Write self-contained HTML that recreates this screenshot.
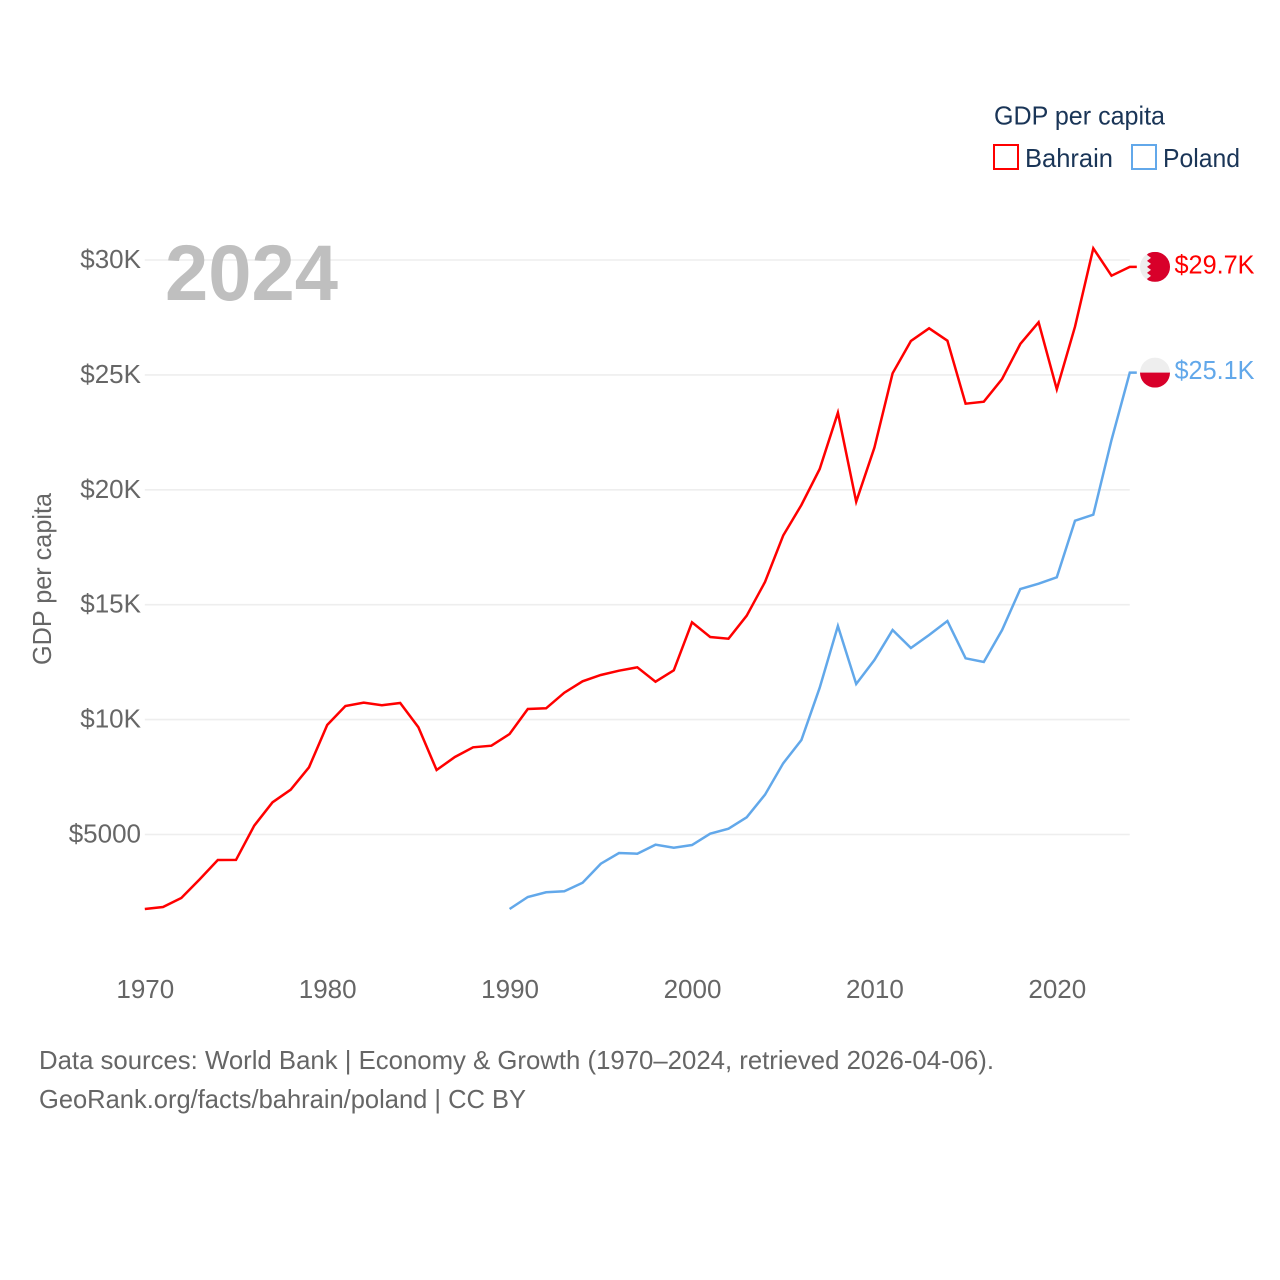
<!DOCTYPE html>
<html lang="en">
<head>
<meta charset="utf-8">
<title>GDP per capita: Bahrain and Poland</title>
<style>
  html, body { margin: 0; padding: 0; background: #fff; }
  svg { display: block; font-family: "Liberation Sans", sans-serif; }
  .tick { font-size: 26px; fill: #666; }
  .foot { font-size: 26px; fill: #666; }
  .legend { font-size: 26px; fill: #1a3557; }
</style>
</head>
<body>
<svg id="chart" width="1280" height="1280" viewBox="0 0 1280 1280" xmlns="http://www.w3.org/2000/svg">
  <rect width="1280" height="1280" fill="#fff"/>
  <defs>
    <clipPath id="flag-clip"><circle cx="0" cy="0" r="15"/></clipPath>
  </defs>

  <g id="grid"></g>
  <g id="y-ticks"></g>
  <g id="x-ticks"></g>

  <text class="tick" transform="translate(51,579) rotate(-90)" text-anchor="middle" textLength="172" lengthAdjust="spacingAndGlyphs">GDP per capita</text>
  <text x="165" y="300" font-size="79" font-weight="700" fill="#bfbfbf" textLength="173" lengthAdjust="spacingAndGlyphs">2024</text>

  <g id="series"></g>

  <g id="flag-bahrain" clip-path="url(#flag-clip)">
    <rect x="-15" y="-15" width="30" height="30" fill="#eeeeee"/>
    <polygon fill="#d8002a" points="15,-15 -6,-15 -8,-12 -4,-9 -8,-6 -4,-3 -8,0 -4,3 -8,6 -4,9 -8,12 -6,15 15,15"/>
  </g>
  <g id="flag-poland" clip-path="url(#flag-clip)">
    <rect x="-15" y="-15" width="30" height="15" fill="#eeeeee"/>
    <rect x="-15" y="0" width="30" height="15" fill="#d8002a"/>
  </g>

  <g id="end-labels"></g>

  <g>
    <text class="legend" x="994" y="124.5" textLength="171" lengthAdjust="spacingAndGlyphs">GDP per capita</text>
    <rect x="994" y="145" width="24" height="24" fill="none" stroke="#ff0000" stroke-width="2"/>
    <text class="legend" x="1025" y="167" textLength="88" lengthAdjust="spacingAndGlyphs">Bahrain</text>
    <rect x="1132" y="145" width="24" height="24" fill="none" stroke="#62a8ea" stroke-width="2"/>
    <text class="legend" x="1163" y="167" textLength="77" lengthAdjust="spacingAndGlyphs">Poland</text>
  </g>

  <text class="foot" x="39" y="1069" textLength="955" lengthAdjust="spacingAndGlyphs">Data sources: World Bank | Economy &amp; Growth (1970–2024, retrieved 2026-04-06).</text>
  <text class="foot" x="39" y="1108" textLength="487" lengthAdjust="spacingAndGlyphs">GeoRank.org/facts/bahrain/poland | CC BY</text>
</svg>

<script>
var yTickValues = [5000, 10000, 15000, 20000, 25000, 30000];
var yTickLabels = ["$5000", "$10K", "$15K", "$20K", "$25K", "$30K"];
var xTickYears = [1970, 1980, 1990, 2000, 2010, 2020];
var xTickLabels = ["1970", "1980", "1990", "2000", "2010", "2020"];

var bahrainStartYear = 1970;
var bahrainValues = [1758, 1845, 2237, 3042, 3890, 3895, 5383, 6401, 6950, 7924,
  9765, 10592, 10735, 10622, 10722, 9665, 7807, 8372, 8795, 8864,
  9373, 10461, 10492, 11171, 11667, 11941, 12128, 12276, 11649, 12145,
  14234, 13594, 13520, 14521, 15988, 18011, 19338, 20905, 23355, 19482,
  21832, 25070, 26475, 27028, 26488, 23747, 23834, 24822, 26344, 27289,
  24374, 27097, 30509, 29317, 29700];

var polandStartYear = 1990;
var polandValues = [1758, 2280, 2485, 2528, 2903, 3729, 4195, 4165, 4556, 4426,
  4543, 5035, 5252, 5748, 6732, 8098, 9112, 11388, 14073, 11549,
  12594, 13899, 13116, 13681, 14291, 12667, 12506, 13899, 15683, 15914,
  16192, 18655, 18916, 22167, 25100];

var svgNS = "http://www.w3.org/2000/svg";

function xScale(year) {
  return 144.8 + (year - 1970) * 18.24;
}
function yScale(value) {
  return 949.4 - value * 0.02298;
}
function make(tag, parent) {
  var el = document.createElementNS(svgNS, tag);
  parent.appendChild(el);
  return el;
}
function formatK(value) {
  return "$" + (value / 1000).toFixed(1) + "K";
}

var gridGroup = document.getElementById("grid");
var yTickGroup = document.getElementById("y-ticks");
yTickValues.forEach(function (value, i) {
  var line = make("line", gridGroup);
  
  
  line.setAttribute("x1", xScale(1970));
  line.setAttribute("x2", xScale(2024));
  line.setAttribute("y1", yScale(value));
  line.setAttribute("y2", yScale(value));
  line.setAttribute("stroke", "#eeeeee");
  line.setAttribute("stroke-width", "1.6");

  var label = make("text", yTickGroup);
  
  
  label.setAttribute("class", "tick");
  label.setAttribute("x", 141);
  label.setAttribute("y", yScale(value) + 8);
  label.setAttribute("text-anchor", "end");
  label.textContent = yTickLabels[i];
});

var xTickGroup = document.getElementById("x-ticks");
xTickYears.forEach(function (year, i) {
  var label = make("text", xTickGroup);
  
  
  label.setAttribute("class", "tick");
  label.setAttribute("x", xScale(year) + 0.5);
  label.setAttribute("y", 998);
  label.setAttribute("text-anchor", "middle");
  label.textContent = xTickLabels[i];
});

function drawSeries(name, values, startYear, colour, flagId) {
  var seriesGroup = document.getElementById("series");
  var points = values.map(function (value, i) {
    return xScale(startYear + i).toFixed(1) + "," + yScale(value).toFixed(1);
  });
  var last = values[values.length - 1];
  var lastYear = startYear + values.length - 1;
  points.push((xScale(lastYear) + 7).toFixed(1) + "," + yScale(last).toFixed(1));

  var line = make("polyline", seriesGroup);
  
  
  line.setAttribute("points", points.join(" "));
  line.setAttribute("fill", "none");
  line.setAttribute("stroke", colour);
  line.setAttribute("stroke-width", "2.5");
  line.setAttribute("stroke-linejoin", "miter");

  var flag = document.getElementById(flagId);
  flag.setAttribute("transform", "translate(1155," + yScale(last) + ")");

  var label = make("text", document.getElementById("end-labels"));
  
  
  label.setAttribute("x", 1174.5);
  label.setAttribute("y", yScale(last) + 6.5);
  label.setAttribute("fill", colour);
  label.setAttribute("font-size", "26");
  label.setAttribute("textLength", "80");
  label.setAttribute("lengthAdjust", "spacingAndGlyphs");
  label.textContent = formatK(last);
}

drawSeries("bahrain", bahrainValues, bahrainStartYear, "#ff0000", "flag-bahrain");
drawSeries("poland", polandValues, polandStartYear, "#62a8ea", "flag-poland");
</script>
</body>
</html>
